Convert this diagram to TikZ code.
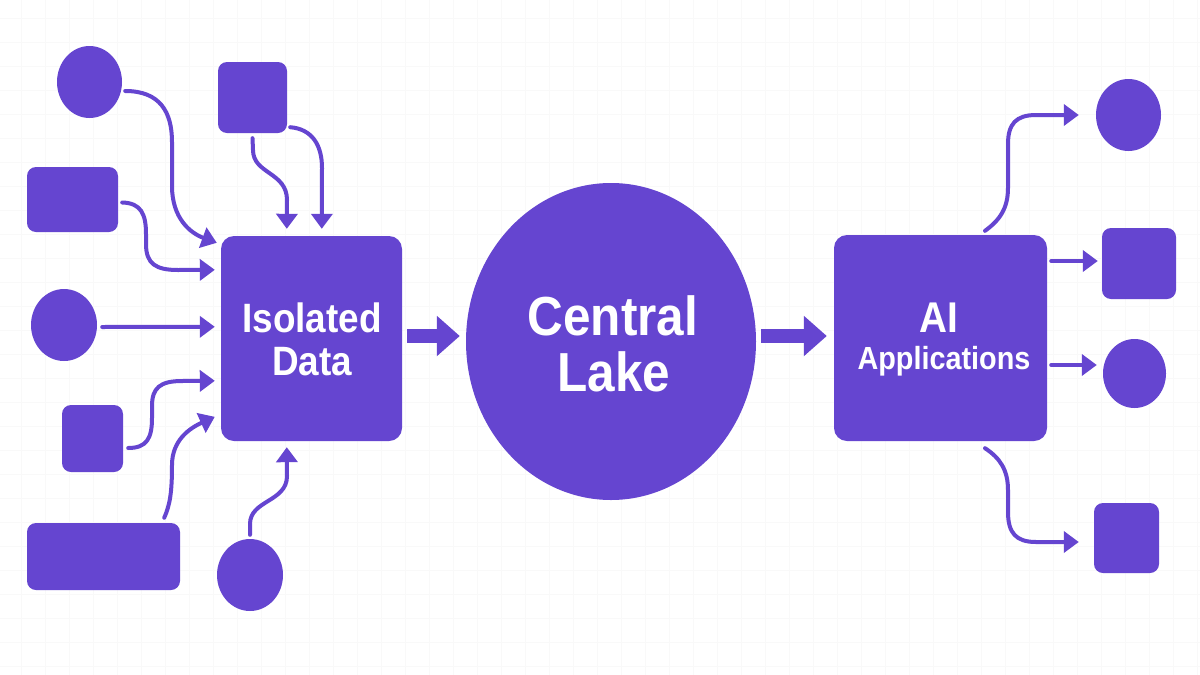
\documentclass[tikz,border=0pt]{standalone}
\usepackage{fontspec}
\newfontfamily\labfont[FakeStretch=0.9]{Liberation Sans}
\usetikzlibrary{arrows.meta,calc,shapes.geometric}
\definecolor{pur}{HTML}{6545D0}
\begin{document}
\begin{tikzpicture}[x=1pt,y=-1pt,
  blob/.style={ellipse, fill=pur, draw=none, inner sep=0pt},
  box/.style={rectangle, rounded corners=9pt, fill=pur, draw=none, inner sep=0pt},
  bigbox/.style={rectangle, rounded corners=13pt, fill=pur, draw=none, inner sep=0pt},
  conn/.style={draw=pur, line width=4pt, line cap=round, -{Triangle[length=15pt,width=21pt]}},
  bigarr/.style={draw=pur, line width=14pt, -{Triangle[length=23pt,width=39pt]}},
  lab/.style={text=white, anchor=base, inner sep=0pt},
  gridc/.style={draw=black!2.5, line width=0.8pt}]
\fill[white] (0,0) rectangle (1200,675);
\useasboundingbox (0,0) rectangle (1200,675);
\foreach \x in {21,45,...,1197} \draw[gridc] (\x,0) -- (\x,675);
\foreach \y in {18,42,...,666} \draw[gridc] (0,\y) -- (1200,\y);

% left sources
\node[blob, minimum width=65pt, minimum height=72pt] (A) at (89.5,82) {};
\node[box, minimum width=69pt, minimum height=71pt] (B) at (252.5,97.5) {};
\node[box, minimum width=91pt, minimum height=65pt] (C) at (72.5,199.5) {};
\node[blob, minimum width=66pt, minimum height=72pt] (D) at (64,325) {};
\node[box, minimum width=61pt, minimum height=67pt] (E) at (92.5,438.5) {};
\node[box, minimum width=153pt, minimum height=67pt] (F) at (103.5,556.5) {};
\node[blob, minimum width=66pt, minimum height=72pt] (G) at (250,575) {};

% main stages
\node[bigbox, minimum width=181pt, minimum height=205pt] (ID) at (311.5,338.5) {};
\node[lab, font={\labfont\bfseries\fontsize{41}{41}\selectfont}] (ID1) at (312,332) {Isolated};
\node[lab, font={\labfont\bfseries\fontsize{41}{41}\selectfont}] (ID2) at (312,375) {Data};

\node[blob, minimum width=290pt, minimum height=317pt] (CL) at (611,341.5) {};
\node[lab, font={\labfont\bfseries\fontsize{55}{55}\selectfont}] (CL1) at (613,335) {Central};
\node[lab, font={\labfont\bfseries\fontsize{55}{55}\selectfont}] (CL2) at (614,391) {Lake};

\node[bigbox, minimum width=213pt, minimum height=206pt] (AI) at (940.5,338) {};
\node[lab, font={\labfont\bfseries\fontsize{43}{43}\selectfont}] (AI1) at (939,332) {AI};
\node[lab, font={\labfont\bfseries\fontsize{32}{32}\selectfont}] (AI2) at (944,369) {Applications};

% right targets
\node[blob, minimum width=65pt, minimum height=72pt] (R1) at (1128.5,115) {};
\node[box, minimum width=74pt, minimum height=71pt] (R2) at (1139,263.5) {};
\node[blob, minimum width=63pt, minimum height=69pt] (R3) at (1134.5,373.5) {};
\node[box, minimum width=65pt, minimum height=70pt] (R4) at (1126.5,538) {};

% left connectors
\draw[conn] ($(A.east)+(3,9)$) .. controls (160,91) and (172,112) .. (172,142) -- (172,186) .. controls (172,218) and (190,233) .. ($(ID.north west)+(-4,7)$);
\draw[conn] ($(C.east)+(4,3)$) .. controls (141,203) and (146,214) .. (146,234) -- (146,244) .. controls (146,264) and (156,270) .. (178,270) -- ($(ID.north west)+(-6,34)$);
\draw[conn] ($(D.east)+(5,2)$) -- ($(ID.north west)+(-6,91)$);
\draw[conn] ($(E.east)+(5,9.5)$) .. controls (147,448) and (152,438) .. (152,418) -- (152,406) .. controls (152,388) and (160,381) .. (182,381) -- ($(ID.north west)+(-6,145)$);
\draw[conn] ($(F.north east)+(-16,-5)$) .. controls (170,505) and (172,492) .. (172,465) .. controls (172,440) and (190,428) .. ($(ID.north west)+(-6,181)$);
\draw[conn] ($(G.north)+(0,-4)$) -- (250,524) .. controls (250,500) and (287,502) .. (287,476) -- ($(ID.south west)+(66,6)$);
\draw[conn] ($(B.south)+(0,5)$) -- (253,150) .. controls (253,174) and (287,172) .. (287,200) -- ($(ID.north west)+(66,-7)$);
\draw[conn] ($(B.south east)+(3,-6)$) .. controls (312,129) and (322,145) .. (322,168) -- ($(ID.north west)+(101,-7)$);

% main flow
\draw[bigarr] ($(ID.east)+(5,-2.5)$) -- ($(CL.west)+(-6,-5.5)$);
\draw[bigarr] ($(CL.east)+(5,-5.5)$) -- ($(AI.west)+(-7,-2)$);

% right connectors
\draw[conn] ($(AI.north)+(44.5,-4)$) .. controls (1000,220) and (1008,208) .. (1008,188) -- (1008,144) .. controls (1008,124) and (1016,115) .. (1036,115) -- ($(R1.west)+(-17,0)$);
\draw[conn] ($(AI.east |- R2.west)+(4,-2.5)$) -- ($(R2.west)+(-4,-2.5)$);
\draw[conn] ($(AI.east |- R3.west)+(4,-8.5)$) -- ($(R3.west)+(-6,-8.5)$);
\draw[conn] ($(AI.south)+(44.5,7)$) .. controls (1000,458) and (1008,470) .. (1008,490) -- (1008,512) .. controls (1008,533) and (1016,542) .. (1036,542) -- ($(R4.west)+(-15,4)$);
\end{tikzpicture}
\end{document}
